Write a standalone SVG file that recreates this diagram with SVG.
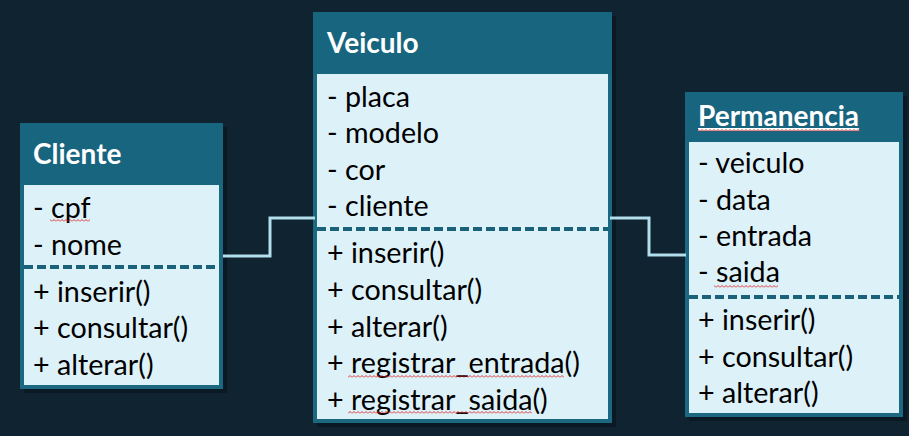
<svg xmlns="http://www.w3.org/2000/svg" width="909" height="436" viewBox="0 0 909 436">
<defs>
<pattern id="squig" x="0" y="0" width="4" height="3" patternUnits="userSpaceOnUse">
<path d="M0,2.5 L2,0.5 L4,2.5" fill="none" stroke="#E02020" stroke-width="0.9"/>
</pattern>
</defs>
<style>
.bg{fill:#0F2331}
.shadow{fill:#0A1924}
.body{fill:#DDF1F9;stroke:#1B6880;stroke-width:4}
.head{fill:#17657E}
.title{font-family:Lato,"Liberation Sans",sans-serif;font-weight:bold;font-size:28px;fill:#FFFFFF}
.item{font-family:Lato,"Liberation Sans",sans-serif;font-size:28.7px;fill:#000000}
.dash{stroke:#1A6279;stroke-width:4;stroke-dasharray:9 4;fill:none}
.conn{stroke:#B3DEEC;stroke-width:3;fill:none}
.sq{fill:url(#squig)}
</style>
<rect class="bg" x="0" y="0" width="909" height="436"/>
<g id="cliente">
<rect class="shadow" x="24" y="127" width="203" height="266"/>
<rect class="body" x="22" y="125" width="199" height="262"/>
<rect class="head" x="20" y="123" width="203" height="62"/>
<text class="title" x="33" y="164">Cliente</text>
<text class="item" x="33" y="218">- cpf</text>
<rect class="sq" x="50" y="219" width="40" height="3"/>
<text class="item" x="33" y="255">- nome</text>
<line class="dash" x1="24" y1="267" x2="220" y2="267"/>
<text class="item" x="33" y="302">+ inserir()</text>
<text class="item" x="33" y="338">+ consultar()</text>
<text class="item" x="33" y="375">+ alterar()</text>
</g>
<g id="veiculo">
<rect class="shadow" x="317" y="16" width="299" height="411"/>
<rect class="body" x="315" y="14" width="295" height="407"/>
<rect class="head" x="313" y="12" width="299" height="62"/>
<text class="title" x="327" y="53">Veiculo</text>
<text class="item" x="327" y="107">- placa</text>
<text class="item" x="327" y="143">- modelo</text>
<text class="item" x="327" y="180">- cor</text>
<text class="item" x="327" y="216">- cliente</text>
<line class="dash" x1="317" y1="229" x2="608" y2="229"/>
<text class="item" x="327" y="263">+ inserir()</text>
<text class="item" x="327" y="300">+ consultar()</text>
<text class="item" x="327" y="337">+ alterar()</text>
<text class="item" x="327" y="373">+ registrar_entrada()</text>
<rect class="sq" x="348" y="375" width="216" height="3"/>
<text class="item" x="327" y="410">+ registrar_saida()</text>
<rect class="sq" x="348" y="411" width="184" height="3"/>
</g>
<g id="permanencia">
<rect class="shadow" x="689" y="96" width="218" height="325"/>
<rect class="body" x="687" y="94" width="214" height="321"/>
<rect class="head" x="685" y="92" width="218" height="50"/>
<text class="title" x="698" y="126" text-decoration="underline">Permanencia</text>
<rect class="sq" x="698" y="129" width="162" height="3"/>
<text class="item" x="698" y="173">- veiculo</text>
<text class="item" x="698" y="210">- data</text>
<text class="item" x="698" y="246">- entrada</text>
<text class="item" x="698" y="282">- saida</text>
<rect class="sq" x="714" y="285" width="64" height="3"/>
<line class="dash" x1="689" y1="297" x2="899" y2="297"/>
<text class="item" x="698" y="330">+ inserir()</text>
<text class="item" x="698" y="367">+ consultar()</text>
<text class="item" x="698" y="403">+ alterar()</text>
</g>
<g id="connectors">
<polyline class="conn" points="223,256 270,256 270,218 315,218"/>
<polyline class="conn" points="610,218 649,218 649,255 686,255"/>
</g>
</svg>
